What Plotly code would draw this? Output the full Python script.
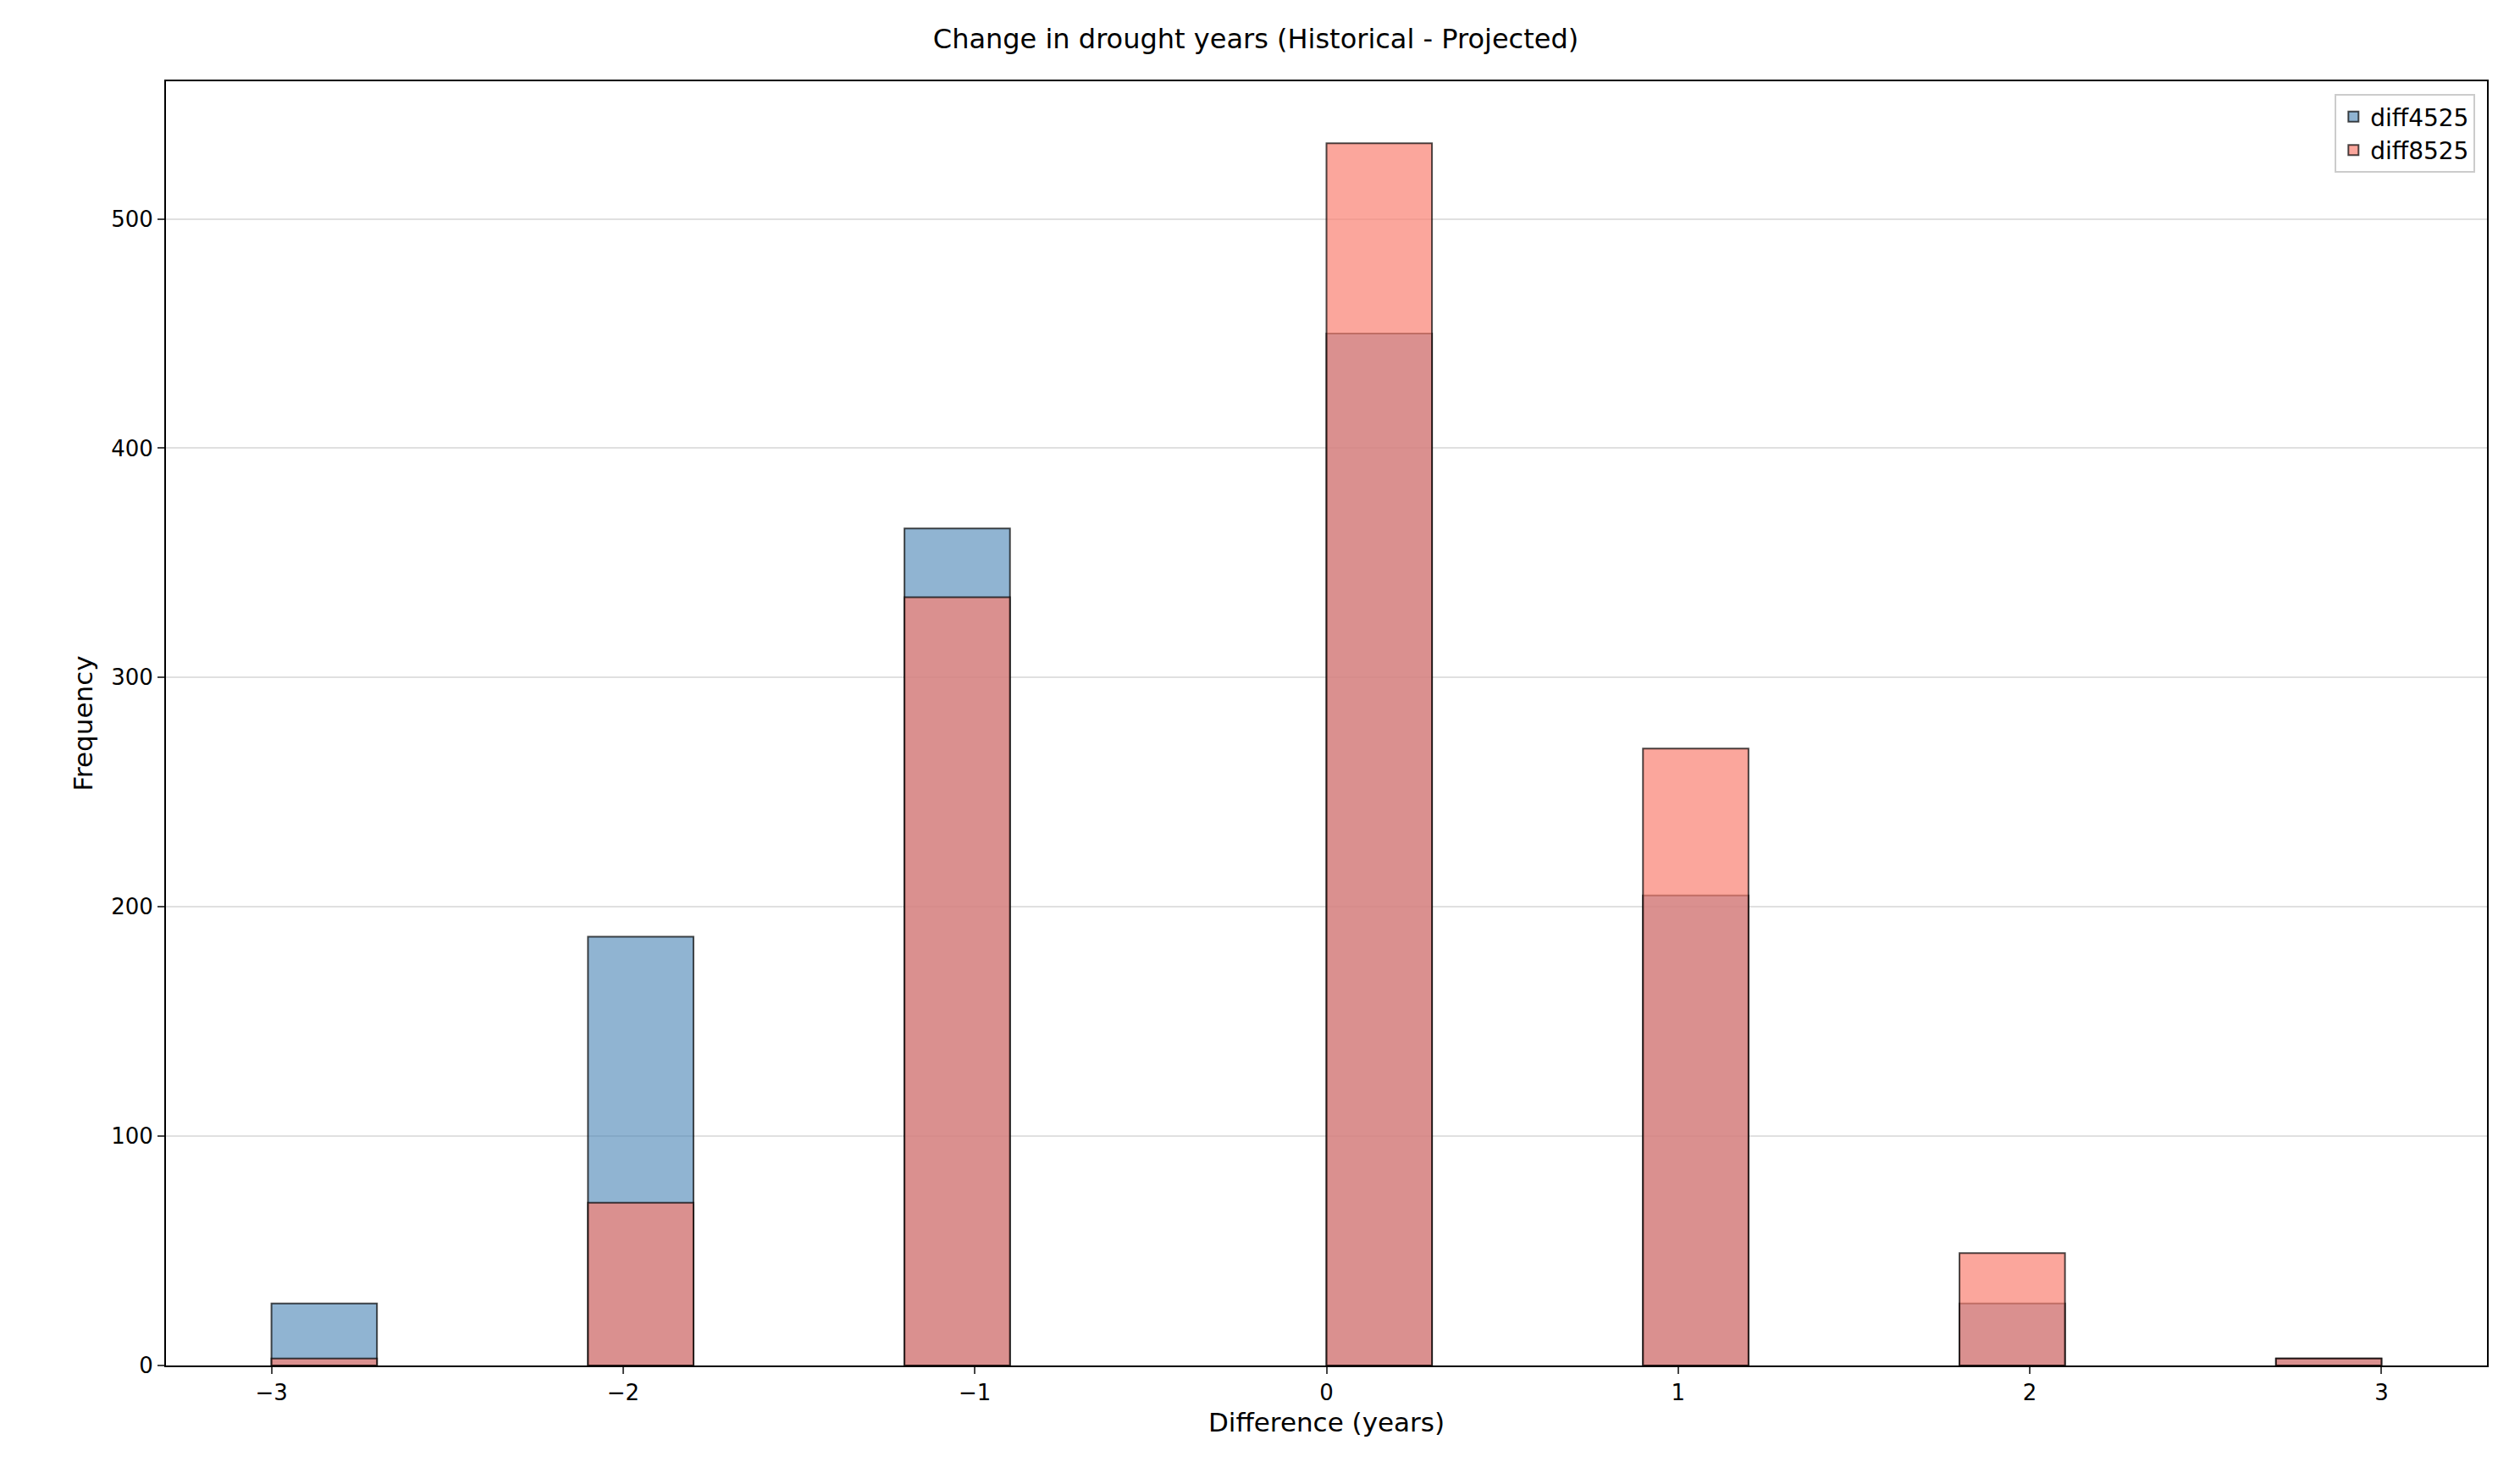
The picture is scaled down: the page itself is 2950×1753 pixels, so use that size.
import plotly.graph_objects as go

# histogram bins: width 0.3 starting at -3 (left edges)
bin_left = [-3.0, -2.1, -1.2, 0.0, 0.9, 1.8, 2.7]
diff4525 = [27, 187, 365, 450, 205, 27, 3]
diff8525 = [3, 71, 335, 533, 269, 49, 3]
bin_width = 0.3
centers = [b + bin_width / 2 for b in bin_left]

fig = go.Figure()
fig.add_trace(go.Bar(
    x=centers, y=diff4525, width=bin_width, name='diff4525',
    marker=dict(color='rgba(70,130,180,0.6)', line=dict(color='rgba(0,0,0,0.7)', width=2)),
))
fig.add_trace(go.Bar(
    x=centers, y=diff8525, width=bin_width, name='diff8525',
    marker=dict(color='rgba(250,128,114,0.7)', line=dict(color='rgba(0,0,0,0.7)', width=2)),
))

fig.update_layout(
    barmode='overlay',
    width=2950, height=1753,
    margin=dict(l=188, r=21, t=88, b=148),
    plot_bgcolor='white', paper_bgcolor='white',
    font=dict(family='DejaVu Sans', size=26, color='black'),
    title=dict(text='Change in drought years (Historical - Projected)', x=0.5, xanchor='center',
               y=0.985, yanchor='top', font=dict(size=32)),
    legend=dict(x=0.995, y=0.99, xanchor='right', yanchor='top', bordercolor='#cccccc',
                borderwidth=2, bgcolor='rgba(255,255,255,0.8)', font=dict(size=28)),
    xaxis=dict(range=[-3.3, 3.3], tickvals=[-3, -2, -1, 0, 1, 2, 3],
               ticktext=['−3', '−2', '−1', '0', '1', '2', '3'],
               showgrid=False, zeroline=False, ticks='outside', ticklen=8, tickwidth=2,
               showline=True, linecolor='black', linewidth=2, mirror=True,
               title=dict(text='Difference (years)', standoff=10)),
    yaxis=dict(range=[0, 560], tickvals=[0, 100, 200, 300, 400, 500],
               showgrid=True, gridcolor='#e0e0e0', gridwidth=2, zeroline=False,
               ticks='outside', ticklen=8, tickwidth=2,
               showline=True, linecolor='black', linewidth=2, mirror=True,
               title=dict(text='Frequency', standoff=12)),
)

fig.write_html("out.html")
